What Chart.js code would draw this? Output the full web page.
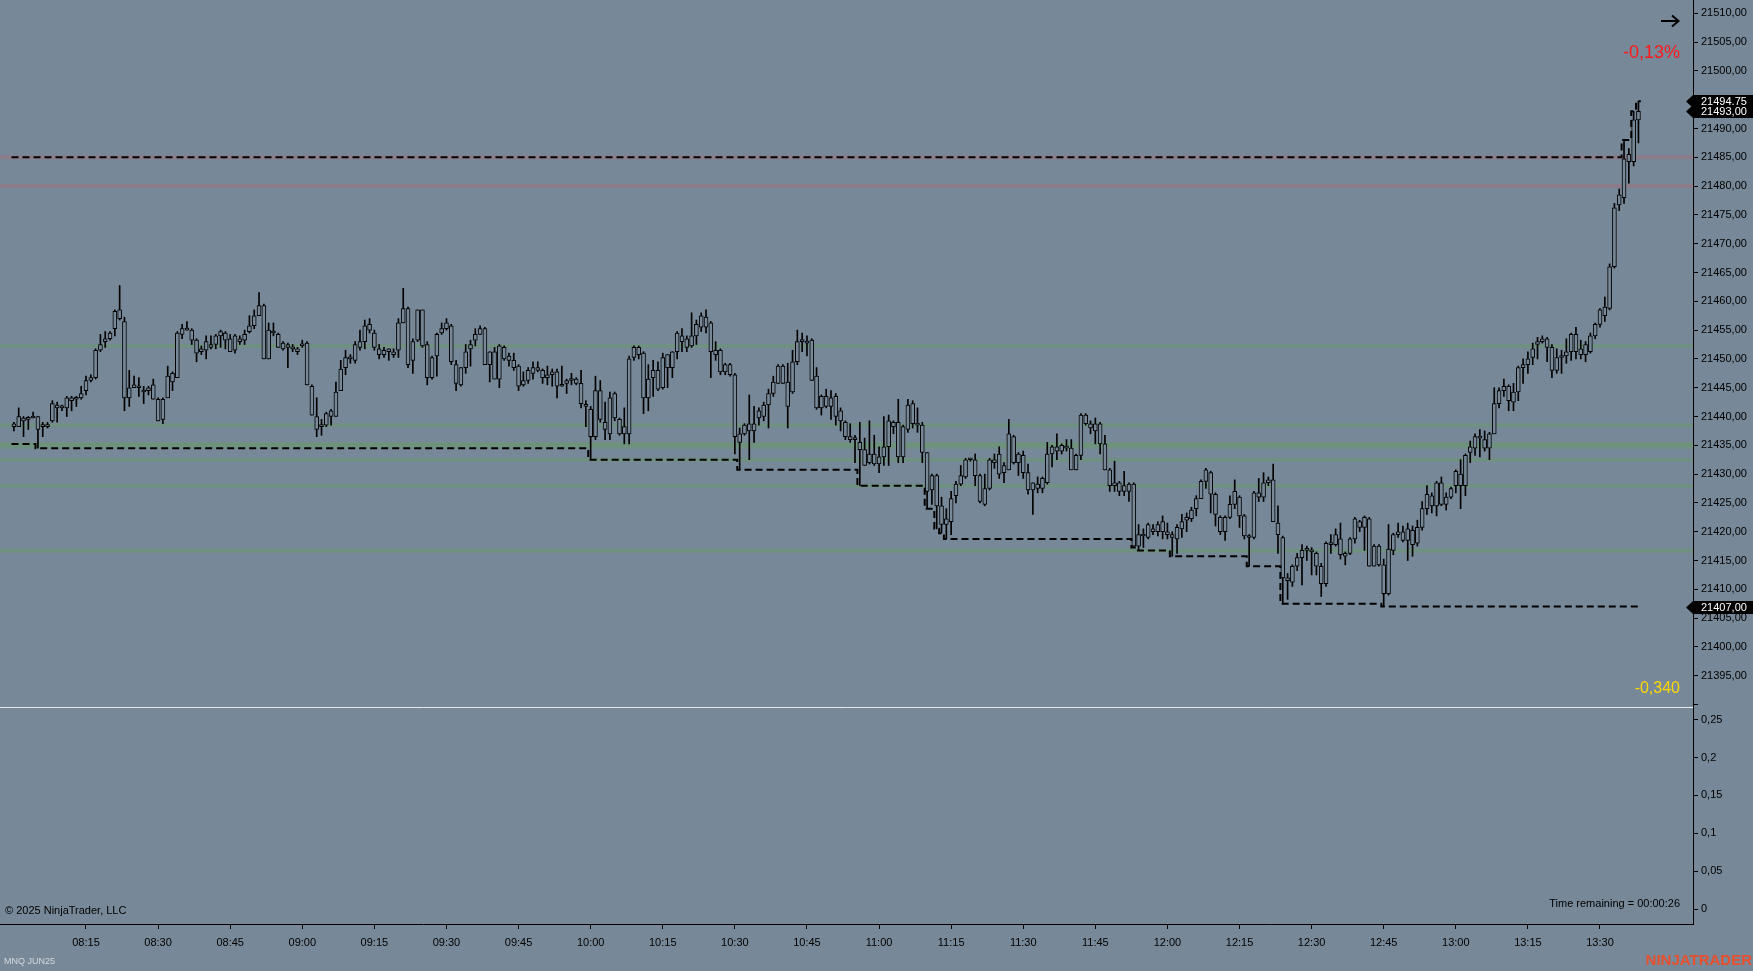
<!DOCTYPE html>
<html>
<head>
<meta charset="utf-8">
<title>MNQ JUN25 - 1 Minute</title>
<script src="https://cdn.jsdelivr.net/npm/chart.js@4.4.1/dist/chart.umd.min.js"></script>
<style>
  body { margin: 0; background: #778899; }
  #wrap { position: relative; width: 1753px; height: 971px; overflow: hidden; }
  canvas { position: absolute; left: 0; }
</style>
</head>
<body>
<div id="wrap">
  <canvas id="price" width="1753" height="707" style="top:0"></canvas>
  <canvas id="osc" width="1753" height="264" style="top:707px"></canvas>
</div>
<script>
// one bar per minute, bar 0 = 08:00
var firstBarHour = 8;

var opens = [
  21438.25, 21438.25, 21439.75, 21439.5, 21439.75, 21440, 21438.25, 21438.5, 21439.25, 21442,
  21441.5, 21441.5, 21443.25, 21443, 21443.25, 21444.5, 21446.25, 21446.75, 21451.5, 21453,
  21453.5, 21455.25, 21458.5, 21456.5, 21443.25, 21445, 21445.25, 21444.5, 21444.5, 21445.5,
  21443, 21439.5, 21443.25, 21446, 21446.75, 21454.25, 21455.25, 21455, 21453.25, 21451.25,
  21451.5, 21452.5, 21452.5, 21454, 21454.5, 21453.5, 21451.5, 21453.5, 21453.25, 21454.75,
  21455.75, 21457.5, 21459.25, 21450, 21454.75, 21454.25, 21451.75, 21452.5, 21452, 21451.75,
  21452.25, 21452.75, 21445.25, 21440, 21438.25, 21438.5, 21440, 21440, 21444.5, 21448.5,
  21450, 21449.75, 21452, 21453, 21456, 21454.5, 21451.75, 21450.75, 21451.25, 21451.25,
  21451.5, 21456.25, 21458.75, 21449.75, 21453.25, 21458.5, 21452.5, 21446.75, 21450.5, 21454.5,
  21455.25, 21455.75, 21449, 21445.5, 21448.5, 21451.75, 21453.25, 21454.25, 21455.25, 21449,
  21451.25, 21446.5, 21452, 21450.5, 21449.75, 21448.75, 21445.5, 21446.25, 21447.5, 21448.5,
  21448, 21446.75, 21447.25, 21447.75, 21445.25, 21445.75, 21446.25, 21446.5, 21445.75, 21442,
  21441.25, 21436.5, 21444.5, 21439, 21437, 21444, 21439.5, 21437, 21437, 21450.25,
  21452, 21451, 21443.25, 21446.75, 21448, 21445, 21448.5, 21448.5, 21451.25, 21454,
  21453.5, 21452.25, 21454, 21455.5, 21457.25, 21456.25, 21451.5, 21451.5, 21447.75, 21449,
  21447.25, 21435.5, 21437, 21437.5, 21438.75, 21439.75, 21440, 21442, 21444, 21445.75,
  21448.75, 21446, 21444.25, 21449.5, 21453, 21453, 21453.25, 21447, 21441.5, 21443.5,
  21441.75, 21443.5, 21441, 21439, 21436.5, 21436, 21435.5, 21434.25, 21432, 21433.5,
  21431.75, 21433, 21434.75, 21438.25, 21439, 21433, 21437.75, 21442.25, 21438.75, 21438.5,
  21433.75, 21427.25, 21429.75, 21424.5, 21421.25, 21421.75, 21426.25, 21428.25, 21429.5, 21432.5,
  21432.5, 21429.75, 21424.75, 21427.5, 21432.5, 21433.5, 21430.25, 21430.75, 21436.5, 21432,
  21433.25, 21430.25, 21427.25, 21428.25, 21427.5, 21428.5, 21433.5, 21434.75, 21434, 21434.75,
  21434.5, 21430.75, 21433.25, 21440.25, 21438.75, 21437.5, 21438.75, 21435.25, 21430.75, 21428,
  21428.5, 21427, 21427, 21428.25, 21417.5, 21419.5, 21419, 21420.5, 21420, 21421.75,
  21420, 21419.5, 21418.75, 21420.5, 21422, 21422.25, 21424, 21425.75, 21428.75, 21430.25,
  21426.5, 21422.5, 21420, 21422.5, 21424.75, 21426, 21422.75, 21419.25, 21419, 21426.75,
  21426, 21428.5, 21429, 21421.5, 21419, 21412, 21411.25, 21414, 21415.5, 21416.75,
  21416.75, 21416.25, 21414, 21411, 21418, 21417.75, 21418.75, 21415.75, 21416.25, 21418.75,
  21420.75, 21422.5, 21422.25, 21414, 21417.5, 21414.25, 21409.25, 21416.75, 21419.5, 21420,
  21418.5, 21420.25, 21418, 21420.75, 21424, 21426.25, 21424.5, 21428.5, 21424.75, 21426,
  21428, 21430, 21428, 21433.75, 21434.5, 21436.5, 21436, 21434.5, 21437, 21442.25,
  21444.5, 21445.25, 21442.5, 21444.25, 21448.5, 21449, 21450.25, 21452.5, 21453, 21453.5,
  21452, 21448, 21450.25, 21450.5, 21451.25, 21454.25, 21451.75, 21450.75, 21451.25, 21454,
  21456, 21457.5, 21458.75, 21466, 21476.75, 21478, 21485.5, 21484.25, 21491.5
];
var highs = [
  21439, 21441.5, 21440, 21440, 21440.75, 21440, 21439, 21439, 21442.75, 21442.5,
  21442, 21443.5, 21443.5, 21443.5, 21445.25, 21447, 21447.25, 21451.75, 21454.25, 21454.75,
  21454.75, 21458.5, 21462.75, 21457.25, 21448, 21447, 21446.75, 21445.25, 21445.25, 21446.5,
  21443.25, 21443.25, 21448.75, 21447.75, 21454.75, 21456, 21456.5, 21455.25, 21453.5, 21452.25,
  21454, 21454, 21454.25, 21455, 21454.75, 21454.25, 21454.25, 21454, 21455, 21457.5,
  21458.5, 21461.5, 21459.5, 21456.25, 21456.25, 21454.5, 21453, 21452.75, 21452.5, 21452,
  21453.25, 21453, 21445.5, 21443.25, 21439.5, 21440.75, 21441.25, 21446, 21449.75, 21451.5,
  21450.75, 21453, 21455, 21456.75, 21457, 21455, 21452.5, 21452, 21451.75, 21451.75,
  21457, 21462.25, 21459, 21453.5, 21458.5, 21458.5, 21453, 21450.5, 21454.5, 21456.25,
  21457, 21456, 21449.75, 21448.5, 21452.5, 21453.25, 21455.25, 21455.75, 21455.5, 21451.25,
  21452, 21452.5, 21452.25, 21451, 21451, 21449, 21447.75, 21448.5, 21449.5, 21449.5,
  21448.25, 21448.75, 21448.25, 21448.25, 21448.75, 21446.5, 21447.5, 21446.75, 21448, 21442.75,
  21441.75, 21447, 21446.25, 21442.5, 21444.25, 21444.25, 21439.75, 21441.5, 21450.5, 21452.25,
  21452.25, 21451.25, 21449, 21449.75, 21449.5, 21451, 21450.75, 21451.25, 21454.75, 21455.25,
  21454, 21458, 21456.75, 21458, 21458.5, 21456.5, 21453, 21451.75, 21449.25, 21449.25,
  21447.5, 21438, 21438.75, 21443.75, 21441.75, 21441.5, 21442.5, 21444.75, 21447, 21449,
  21449, 21449.25, 21451.5, 21455, 21454.5, 21454, 21453.5, 21448.5, 21443.75, 21444.75,
  21444.5, 21444, 21441.5, 21439.25, 21438.75, 21436.75, 21439, 21436.25, 21439.25, 21436.75,
  21434.75, 21440, 21440.25, 21439.25, 21443, 21438.5, 21443, 21442.75, 21441.5, 21439,
  21433.75, 21430, 21430, 21426, 21424, 21427, 21428.75, 21431.5, 21432.75, 21432.75,
  21433.5, 21430, 21430, 21432.75, 21433.5, 21434.75, 21432, 21439.5, 21436.75, 21433.75,
  21434, 21431.75, 21428.5, 21429.5, 21429.5, 21435.5, 21435, 21437, 21435.25, 21436,
  21436, 21433.5, 21440.5, 21440.5, 21439.25, 21439.75, 21439, 21436.75, 21431, 21432.25,
  21428.75, 21430.5, 21428.5, 21428.5, 21421.25, 21420.5, 21421.5, 21421.25, 21421.75, 21422.75,
  21421.5, 21420, 21421.25, 21423, 21423.25, 21424.25, 21426.25, 21429, 21431, 21430.5,
  21426.75, 21422.75, 21422.75, 21426.25, 21429, 21426.25, 21423, 21419.5, 21427, 21429.25,
  21430.25, 21429.5, 21431.75, 21424.5, 21419.25, 21412.75, 21414.25, 21416.25, 21417.75, 21417.5,
  21417.25, 21416.5, 21414.5, 21418.25, 21419.5, 21420.5, 21421.5, 21416.5, 21419, 21422.5,
  21422, 21422.75, 21422.5, 21417.75, 21417.75, 21415.25, 21421.25, 21419.75, 21421.5, 21421,
  21421.5, 21421, 21422, 21425.25, 21428, 21426.75, 21428.75, 21429.5, 21426.75, 21427.75,
  21430.75, 21432.5, 21433.5, 21435.75, 21437, 21437.75, 21437.5, 21437.25, 21445, 21445,
  21446.5, 21445.5, 21445.75, 21448.75, 21450, 21451.25, 21452.75, 21453.75, 21454, 21453.75,
  21452.5, 21451.75, 21451.5, 21453.5, 21454.5, 21455.5, 21453.25, 21453, 21454.5, 21456.25,
  21458.75, 21460.75, 21466.5, 21477, 21479.5, 21488, 21486.5, 21493, 21494.75
];
var lows = [
  21437.5, 21438.25, 21436.5, 21437.75, 21439.75, 21434.5, 21436.5, 21438, 21439, 21439,
  21441, 21440, 21441, 21441.75, 21443, 21443.75, 21446, 21446.5, 21451.25, 21452,
  21453.25, 21454, 21456.75, 21441, 21441.75, 21445, 21443.5, 21442.25, 21443.75, 21443,
  21439.25, 21438.75, 21443.25, 21444.5, 21446.75, 21453.5, 21455, 21452.5, 21449.5, 21450.75,
  21450, 21451.75, 21451.75, 21452, 21451.75, 21451.25, 21451, 21452.5, 21452.5, 21454.5,
  21455.25, 21457.5, 21450, 21450, 21454, 21452, 21451.5, 21448.5, 21451.25, 21450.75,
  21452, 21445.5, 21440.25, 21436.5, 21436.75, 21438.25, 21438.5, 21440, 21444.5, 21447.25,
  21449.25, 21449.25, 21451.5, 21451.75, 21454.5, 21451.5, 21450, 21450.25, 21449.75, 21450.25,
  21450.25, 21456.25, 21448.5, 21447.5, 21453, 21452, 21445.5, 21446.5, 21447, 21454.25,
  21455, 21449, 21444.5, 21445.25, 21447.5, 21448.75, 21452.25, 21454.25, 21449, 21446,
  21446.5, 21445, 21449.75, 21448.75, 21448, 21444.5, 21445.25, 21445.75, 21446.5, 21447.75,
  21445.75, 21445.5, 21445.25, 21443.25, 21445.25, 21444, 21445.5, 21445.5, 21441.5, 21438.25,
  21432.5, 21436, 21439, 21436, 21436, 21439.25, 21436.75, 21435.25, 21435.25, 21449.75,
  21450, 21440.5, 21441, 21443.5, 21444.5, 21444.75, 21445, 21446.75, 21450, 21451.25,
  21451.25, 21452, 21452.5, 21454.75, 21454.5, 21446.75, 21449.75, 21447.25, 21447.25, 21447,
  21433.5, 21430.75, 21436.75, 21432.5, 21435.5, 21438.5, 21439.25, 21438, 21443.5, 21445.75,
  21445.75, 21438, 21444, 21449, 21451.25, 21450.5, 21446.25, 21441.25, 21440.25, 21441.5,
  21439.5, 21438.5, 21437.5, 21436, 21435.5, 21432, 21428, 21431.5, 21431.75, 21431.5,
  21430.25, 21431.5, 21431.5, 21437, 21432, 21432, 21437.25, 21438, 21437.25, 21432,
  21424, 21424.75, 21420.5, 21419.75, 21418.75, 21419.5, 21425, 21428, 21429.25, 21432.25,
  21428, 21425, 21424.5, 21427.25, 21431, 21429.25, 21428.5, 21430.75, 21431.75, 21429.75,
  21429.25, 21426.5, 21423, 21426.75, 21426.75, 21428.25, 21431.25, 21432.5, 21433.5, 21434,
  21430.75, 21430.75, 21432.5, 21438.5, 21437, 21435.25, 21433.5, 21430.75, 21427, 21427,
  21426.25, 21426.25, 21425.25, 21417.25, 21416.75, 21417.25, 21418.75, 21419.5, 21419.25, 21418.75,
  21418.75, 21415.75, 21416.25, 21419, 21420, 21421.75, 21422.75, 21425.75, 21427.5, 21423.25,
  21421, 21419.5, 21418.5, 21422.25, 21424, 21420.75, 21418.75, 21414, 21418.75, 21425.25,
  21425.25, 21428, 21421.75, 21416.25, 21407.5, 21408.25, 21410.5, 21413.25, 21410.75, 21415,
  21412.5, 21412.5, 21408.75, 21410.5, 21416.25, 21417.5, 21415.25, 21414.25, 21416, 21418,
  21420, 21416.75, 21414, 21414, 21414, 21407, 21409, 21416, 21419, 21418.25,
  21415, 21415.75, 21417.5, 21420.25, 21423, 21423.25, 21422.75, 21424.5, 21423.75, 21425.75,
  21426.75, 21424, 21426.25, 21432, 21433.25, 21433, 21434, 21432.5, 21437, 21441.5,
  21443.5, 21441, 21441, 21442.75, 21445.75, 21447.5, 21449, 21450, 21452.75, 21449.5,
  21446.75, 21447.5, 21447.5, 21449.25, 21449.75, 21450, 21450, 21449.5, 21451, 21453.5,
  21455.5, 21456.5, 21458.5, 21465.75, 21475.75, 21477, 21480.5, 21483.5, 21487.5
];
var closes = [
  21438.75, 21440, 21439.25, 21439.75, 21440, 21437.75, 21438.5, 21438.25, 21442.25, 21441.5,
  21441.75, 21443.25, 21442.75, 21443.25, 21444, 21446.25, 21446.75, 21451.5, 21452.5, 21453.5,
  21454.5, 21458.25, 21457, 21443.25, 21445, 21445.5, 21445, 21444.25, 21445, 21443,
  21439.25, 21443, 21447, 21447.5, 21454.5, 21455.25, 21455, 21453.25, 21451, 21451.75,
  21453, 21452, 21454, 21454.75, 21453.25, 21451.25, 21454, 21453, 21454.25, 21455.75,
  21457.5, 21459.25, 21450, 21455, 21454.5, 21452, 21452.75, 21452, 21451.75, 21451.25,
  21452.5, 21445.5, 21440.25, 21437.75, 21438.5, 21440.5, 21441, 21444.25, 21448.25, 21450.25,
  21450.25, 21452.5, 21453, 21455.75, 21455, 21452, 21450.75, 21451.5, 21451.75, 21450.75,
  21456.25, 21458.75, 21449, 21453, 21458.5, 21452.25, 21446.75, 21450.25, 21454.25, 21455.25,
  21456.25, 21449.5, 21445.75, 21448.5, 21451.25, 21452.5, 21454.25, 21455.25, 21449, 21451.25,
  21446.5, 21452.25, 21450, 21449.75, 21448.5, 21445.25, 21446.25, 21448, 21448.5, 21448,
  21446.75, 21447.25, 21447.75, 21445.25, 21445.5, 21446.25, 21446.5, 21445.75, 21442.25, 21441.75,
  21436.5, 21444.5, 21439.5, 21437.75, 21443.25, 21439.75, 21437, 21438.25, 21450, 21452,
  21450.75, 21443.25, 21446.5, 21448, 21444.75, 21450.25, 21450.75, 21451.25, 21454.5, 21453,
  21452, 21454, 21456, 21457.5, 21455.5, 21451.25, 21450.75, 21447.75, 21449, 21447.25,
  21436.5, 21437, 21438.5, 21438.75, 21437.5, 21441, 21442, 21444, 21446, 21448.75,
  21445.75, 21441.75, 21449.5, 21453, 21453.25, 21452.75, 21446.25, 21441.5, 21443.5, 21441.75,
  21443.25, 21440, 21439.25, 21436.5, 21436, 21436, 21434.25, 21431.5, 21433.5, 21431.75,
  21433, 21434.75, 21439.25, 21439, 21433, 21438.25, 21442, 21438.75, 21438.5, 21433.75,
  21427, 21429.75, 21424.5, 21421.25, 21422.25, 21425.75, 21428.25, 21429.75, 21432.5, 21432.5,
  21429.75, 21425.25, 21427.5, 21432.5, 21432, 21430, 21431.5, 21437, 21432, 21433.5,
  21430.25, 21427.25, 21428.5, 21427.5, 21429.25, 21433.5, 21434.75, 21434, 21435, 21434.5,
  21430.75, 21433.25, 21440.25, 21438.75, 21438, 21438.75, 21435.25, 21430.75, 21428, 21428.5,
  21427, 21428, 21428.25, 21417.5, 21419.5, 21419.25, 21421.25, 21420, 21421.25, 21420,
  21419.5, 21419, 21420.75, 21421.75, 21422.5, 21423.75, 21425.75, 21428.75, 21430.75, 21426.5,
  21423, 21420, 21422.5, 21424.75, 21427, 21422.75, 21419.25, 21419, 21426.75, 21426,
  21428.5, 21429, 21421.75, 21419.5, 21412, 21411.5, 21414, 21415.5, 21416.75, 21416.75,
  21416.5, 21414, 21411, 21418, 21417.75, 21419.5, 21416, 21416.25, 21418.75, 21422.25,
  21421.75, 21420.75, 21414, 21417.5, 21414.25, 21409.25, 21417, 21419.5, 21420, 21418.5,
  21420.5, 21417.75, 21420.75, 21424, 21426.5, 21424.5, 21428.5, 21424.75, 21426, 21427.5,
  21430.5, 21428, 21433.25, 21434.75, 21436.5, 21436.25, 21434.5, 21437, 21442.25, 21444.5,
  21445.25, 21442.75, 21444.25, 21448.5, 21449, 21450, 21451.75, 21453, 21453.5, 21452,
  21448, 21450.25, 21450.25, 21451.25, 21454.25, 21451.25, 21450.75, 21452.5, 21454, 21456,
  21458.5, 21459, 21466, 21476.25, 21478.5, 21484.75, 21484.25, 21491.5, 21493
];

// session low / high lines: bar where the level changes, and the level
var lowStepBars = [0, 5, 120, 151, 176, 190, 192, 193, 194, 233, 234, 241, 257, 264, 285];
var lowStepValues = [21435.25, 21434.5, 21432.5, 21430.75, 21428, 21424, 21420.5, 21419.75, 21418.75,
  21417.25, 21416.75, 21415.75, 21414, 21407.5, 21407];
var highStepBars = [0, 335, 337, 338];
var highStepValues = [21485, 21488, 21493, 21494.75];

var greenLevels = [21452.25, 21438.5, 21435.25, 21434.75, 21432.5, 21428, 21416.75];
var redLevels = [21485, 21480];

var priceTicks = [21390, 21395, 21400, 21405, 21410, 21415, 21420, 21425, 21430, 21435, 21440, 21445, 21450,
  21455, 21460, 21465, 21470, 21475, 21480, 21485, 21490, 21495, 21500, 21505, 21510];
var oscTicks = [0, 0.05, 0.1, 0.15, 0.2, 0.25];
var timeTicks = ['08:15', '08:30', '08:45', '09:00', '09:15', '09:30', '09:45', '10:00', '10:15', '10:30', '10:45',
  '11:00', '11:15', '11:30', '11:45', '12:00', '12:15', '12:30', '12:45', '13:00', '13:15', '13:30'];

var priceMarkers = [21494.75, 21493.00, 21407.00];
var oscValue = '-0,340';
var changeText = '-0,13%';
var timeRemaining = '00:00:26';

var BG = '#778899';
var FONT = "'Liberation Sans', Arial, sans-serif";
var X_MIN = -2.893, X_MAX = 349.35;

Chart.defaults.font.family = FONT;
Chart.defaults.font.size = 11;
Chart.defaults.color = '#000';

function toMinute(t) {
  var p = t.split(':');
  return (+p[0] - firstBarHour) * 60 + (+p[1]);
}
function comma(v, d) {
  return v.toFixed(d).replace('.', ',');
}
function stepPoints(bars, vals, lastBar) {
  var pts = [];
  for (var k = 0; k < bars.length; k++) pts.push({x: bars[k] - 0.5, y: vals[k]});
  pts.push({x: lastBar + 0.5, y: vals[vals.length - 1]});
  return pts;
}
// keep the plot area flush with the canvas edges
function noPad(s) {
  s.paddingTop = 0; s.paddingBottom = 0; s.paddingLeft = 0; s.paddingRight = 0;
}

var bodyData = [], wickData = [];
for (var i = 0; i < opens.length; i++) {
  bodyData.push({x: i, y: [opens[i], closes[i]]});
  wickData.push({x: i, y: [lows[i], highs[i]]});
}
var lastBar = opens.length - 1;

var levelsPlugin = {
  id: 'levels',
  beforeDatasetsDraw: function(chart) {
    var ctx = chart.ctx, a = chart.chartArea, y = chart.scales.y;
    ctx.save();
    ctx.lineWidth = 4;
    greenLevels.forEach(function(v) {
      var p = y.getPixelForValue(v);
      ctx.strokeStyle = 'rgba(100,160,90,0.35)';
      ctx.beginPath(); ctx.moveTo(a.left, p); ctx.lineTo(a.right, p); ctx.stroke();
    });
    redLevels.forEach(function(v) {
      var p = y.getPixelForValue(v);
      ctx.strokeStyle = 'rgba(180,100,110,0.35)';
      ctx.beginPath(); ctx.moveTo(a.left, p); ctx.lineTo(a.right, p); ctx.stroke();
    });
    ctx.restore();
  }
};

var priceText = {
  id: 'priceText',
  afterDraw: function(chart) {
    var ctx = chart.ctx, y = chart.scales.y;
    ctx.save();
    // arrow
    ctx.strokeStyle = '#000';
    ctx.lineWidth = 2;
    ctx.beginPath();
    ctx.moveTo(1661, 21); ctx.lineTo(1678, 21);
    ctx.moveTo(1672, 15.5); ctx.lineTo(1678.5, 21); ctx.lineTo(1672, 26.5);
    ctx.stroke();

    ctx.textAlign = 'right';
    ctx.textBaseline = 'middle';
    ctx.fillStyle = '#ff1a1a';
    ctx.font = '18px ' + FONT;
    ctx.fillText(changeText, 1680, 53);
    ctx.fillStyle = '#ffd700';
    ctx.font = '16px ' + FONT;
    ctx.fillText(oscValue, 1680, 689);

    // price markers on the axis
    ctx.textAlign = 'left';
    ctx.font = '11px ' + FONT;
    priceMarkers.forEach(function(v) {
      var p = Math.round(y.getPixelForValue(v)) + 0.5;
      ctx.fillStyle = '#000';
      ctx.beginPath();
      ctx.moveTo(1686, p);
      ctx.lineTo(1693, p - 6.5);
      ctx.lineTo(1753, p - 6.5);
      ctx.lineTo(1753, p + 6.5);
      ctx.lineTo(1693, p + 6.5);
      ctx.closePath();
      ctx.fill();
      ctx.fillStyle = '#fff';
      ctx.fillText(comma(v, 2), 1701, p + 0.5);
    });
    ctx.restore();
  }
};

new Chart(document.getElementById('price'), {
  type: 'bar',
  data: {
    datasets: [
      {
        type: 'line', data: stepPoints(lowStepBars, lowStepValues, lastBar),
        borderColor: '#000', borderWidth: 2, borderDash: [7, 4], stepped: 'before',
        pointRadius: 0, fill: false, order: 0
      },
      {
        type: 'line', data: stepPoints(highStepBars, highStepValues, lastBar),
        borderColor: '#000', borderWidth: 2, borderDash: [7, 4], stepped: 'before',
        pointRadius: 0, fill: false, order: 0
      },
      {
        type: 'bar', data: bodyData, backgroundColor: BG, borderColor: '#000', borderWidth: 1,
        borderSkipped: false, barThickness: 4, minBarLength: 2, grouped: false, order: 1
      },
      {
        type: 'bar', data: wickData, backgroundColor: '#000', borderWidth: 0,
        barThickness: 1, minBarLength: 1, grouped: false, order: 2
      }
    ]
  },
  options: {
    responsive: false,
    animation: false,
    events: [],
    layout: { padding: 0, autoPadding: false },
    plugins: { legend: { display: false }, tooltip: { enabled: false } },
    scales: {
      x: { type: 'linear', min: X_MIN, max: X_MAX, offset: false, display: false },
      y: {
        type: 'linear', position: 'right', min: 21389.57, max: 21512.31,
        afterFit: function(s) { s.width = 60; noPad(s); },
        afterBuildTicks: function(s) { s.ticks = priceTicks.map(function(v) { return {value: v}; }); },
        grid: { drawOnChartArea: false, color: '#000', tickLength: 5 },
        border: { color: '#000' },
        ticks: {
          autoSkip: false, padding: 3, color: '#000',
          callback: function(v) { return v < 21395 ? '' : comma(v, 2); }
        }
      }
    }
  },
  plugins: [levelsPlugin, priceText]
});

var oscText = {
  id: 'oscText',
  afterDraw: function(chart) {
    var ctx = chart.ctx;
    ctx.save();
    ctx.strokeStyle = '#e8e8e8';
    ctx.lineWidth = 1;
    ctx.beginPath(); ctx.moveTo(0, 0.5); ctx.lineTo(1693, 0.5); ctx.stroke();

    ctx.textBaseline = 'middle';
    ctx.fillStyle = '#000';
    ctx.font = '11px ' + FONT;
    ctx.textAlign = 'right';
    ctx.fillText('Time remaining = ' + timeRemaining, 1680, 197);
    ctx.textAlign = 'left';
    ctx.fillText('\u00a9 2025 NinjaTrader, LLC', 5, 204);

    ctx.fillStyle = '#d3d8de';
    ctx.font = '9px ' + FONT;
    ctx.fillText('MNQ JUN25', 4, 255);

    ctx.fillStyle = '#e8502d';
    ctx.font = 'bold 15px ' + FONT;
    ctx.textAlign = 'right';
    ctx.fillText('NINJATRADER', 1752, 254);
    ctx.restore();
  }
};

new Chart(document.getElementById('osc'), {
  type: 'line',
  data: { datasets: [] },
  options: {
    responsive: false,
    animation: false,
    events: [],
    layout: { padding: 0, autoPadding: false },
    plugins: { legend: { display: false }, tooltip: { enabled: false } },
    scales: {
      x: {
        type: 'linear', position: 'bottom', min: X_MIN, max: X_MAX, offset: false,
        afterFit: function(s) { s.height = 47; noPad(s); },
        afterBuildTicks: function(s) { s.ticks = timeTicks.map(function(t) { return {value: toMinute(t)}; }); },
        grid: { drawOnChartArea: false, color: '#000', tickLength: 5 },
        border: { color: '#000' },
        ticks: {
          autoSkip: false, maxRotation: 0, padding: 7, color: '#000',
          callback: function(v, idx) { return timeTicks[idx]; }
        }
      },
      y: {
        type: 'linear', position: 'right', min: -0.0198, max: 0.2668,
        afterFit: function(s) { s.width = 60; noPad(s); },
        afterBuildTicks: function(s) { s.ticks = oscTicks.map(function(v) { return {value: v}; }); },
        grid: { drawOnChartArea: false, color: '#000', tickLength: 5 },
        border: { color: '#000' },
        ticks: {
          autoSkip: false, padding: 3, color: '#000',
          callback: function(v) { return String(+v.toFixed(2)).replace('.', ','); }
        }
      }
    }
  },
  plugins: [oscText]
});
</script>
</body>
</html>
